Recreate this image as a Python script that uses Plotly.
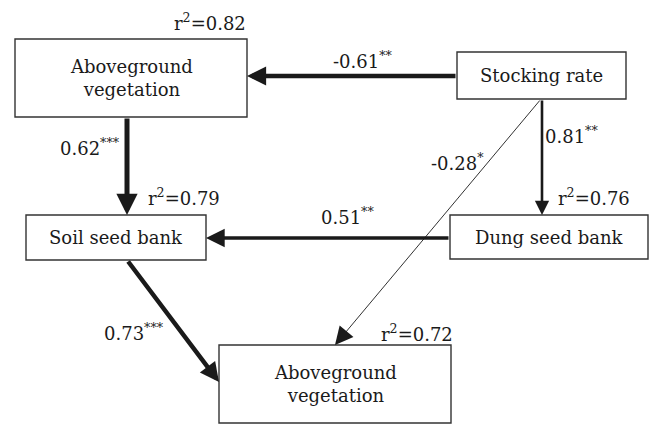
import plotly.graph_objects as go

# ---- Path model data ----
node_ids = ["veg_top", "stocking", "soil", "dung", "veg_bottom"]
node_labels = ["Aboveground<br>vegetation", "Stocking rate", "Soil seed bank",
               "Dung seed bank", "Aboveground<br>vegetation"]
r2_nodes = ["veg_top", "soil", "dung", "veg_bottom"]
r2_values = [0.82, 0.79, 0.76, 0.72]

path_from = ["stocking", "veg_top", "stocking", "dung", "soil", "stocking"]
path_to = ["veg_top", "soil", "dung", "soil", "veg_bottom", "veg_bottom"]
path_coef = [-0.61, 0.62, 0.81, 0.51, 0.73, -0.28]
path_sig = ["**", "***", "**", "**", "***", "*"]

# ---- Layout geometry (pixel space, y downward) ----
boxes = {
    "veg_top": (15, 39, 247, 117),
    "stocking": (457, 52, 626, 99),
    "soil": (26, 215, 206, 260),
    "dung": (450, 215, 648, 259),
    "veg_bottom": (219, 345, 451, 423),
}
# arrow tail / head points and stroke widths, per path
arrow_geom = [
    ((457, 76), (247, 76), 4.5),
    ((127, 117), (127, 215), 5),
    ((542, 99), (542, 215), 2.6),
    ((450, 238), (206, 238), 3.4),
    ((127, 260), (219, 382), 4.5),
    ((541, 99), (335, 345), 0.9),
]
coef_pos = [(362, 60), (90, 147), (571, 135), (347, 216), (134, 332), (457, 162)]
r2_pos = [(210, 22), (184, 197), (594, 197), (417, 333)]

FONT = "DejaVu Serif"
SIZE = 18
INK = "#1a1a1a"


def head_scale(w):
    # keep arrowheads a similar absolute size across stroke widths
    if w < 2:
        return 3.6 / w
    return 0.85 if w >= 4 else 1.1


fig = go.Figure()
shapes = []
annotations = []

for nid, label in zip(node_ids, node_labels):
    x0, y0, x1, y1 = boxes[nid]
    shapes.append(dict(type="rect", xref="x", yref="y", x0=x0, y0=y0, x1=x1, y1=y1,
                       line=dict(color="#333333", width=1.4), fillcolor="white"))
    annotations.append(dict(x=(x0 + x1) / 2, y=(y0 + y1) / 2, xref="x", yref="y",
                            text=label, showarrow=False,
                            font=dict(family=FONT, size=SIZE, color=INK)))

for (tail, head, w) in arrow_geom:
    annotations.append(dict(x=head[0], y=head[1], ax=tail[0], ay=tail[1],
                            xref="x", yref="y", axref="x", ayref="y",
                            text="", showarrow=True, arrowhead=2,
                            arrowsize=head_scale(w),
                            arrowwidth=w, arrowcolor=INK, standoff=0, startstandoff=0))

for c, s, (px, py) in zip(path_coef, path_sig, coef_pos):
    annotations.append(dict(x=px, y=py, xref="x", yref="y",
                            text=f"{c:.2f}<sup>{s}</sup>", showarrow=False,
                            font=dict(family=FONT, size=SIZE, color=INK)))

for nid, r, (px, py) in zip(r2_nodes, r2_values, r2_pos):
    annotations.append(dict(x=px, y=py, xref="x", yref="y",
                            text=f"r<sup>2</sup>={r:.2f}",
                            showarrow=False,
                            font=dict(family=FONT, size=SIZE, color=INK)))

fig.update_layout(
    width=652, height=424,
    margin=dict(l=0, r=0, t=0, b=0),
    paper_bgcolor="white", plot_bgcolor="white",
    font=dict(family=FONT),
    xaxis=dict(range=[0, 652], visible=False, fixedrange=True),
    yaxis=dict(range=[424, 0], visible=False, fixedrange=True),
    shapes=shapes, annotations=annotations, showlegend=False,
)

fig.write_html("out.html")
